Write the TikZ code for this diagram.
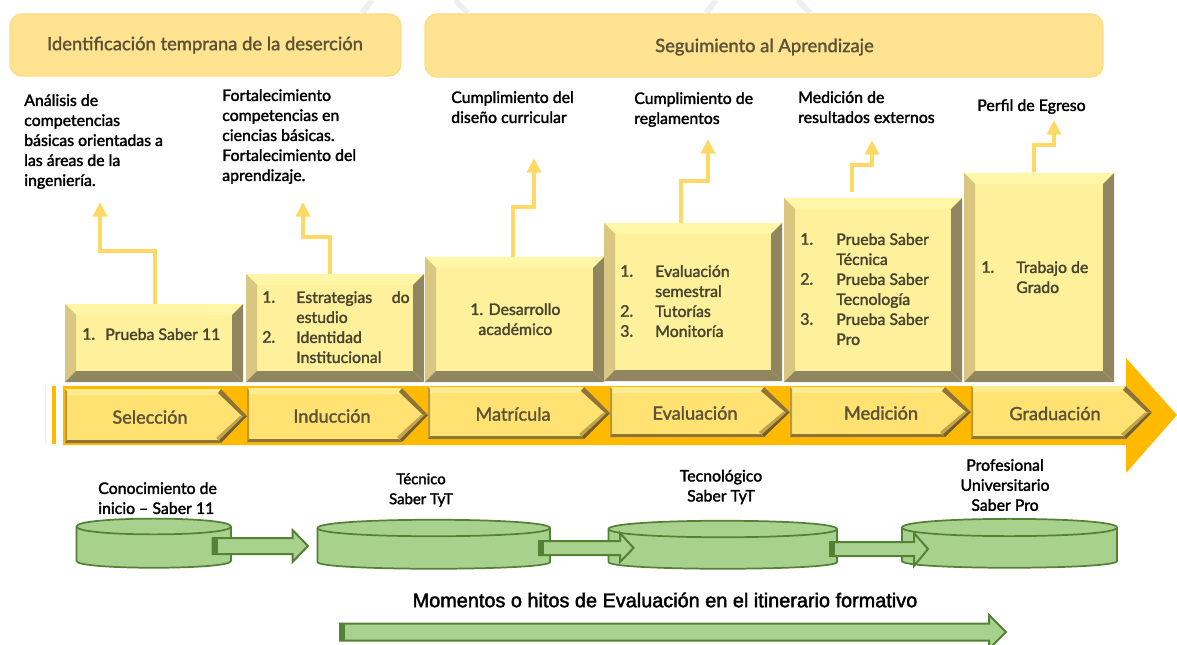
\documentclass[tikz,border=0pt]{standalone}
\usepackage{fontspec}
\setmainfont{Lato}
\newfontfamily\ftaface{Lato}
\newfontfamily\ftbface{Liberation Sans}
\newcommand{\fta}{\ftaface\special{pdf:code 2 Tr 0.22 w}}
\newcommand{\ftb}{\ftbface\special{pdf:code 2 Tr 0.3 w}}
\usetikzlibrary{arrows.meta,calc}
\definecolor{headfill}{HTML}{FFE390}
\definecolor{headedge}{HTML}{FBDD85}
\definecolor{stepcol}{HTML}{FFD966}
\definecolor{face}{HTML}{FFF09C}
\definecolor{facetop}{HTML}{FFF6A8}
\definecolor{faceleft}{HTML}{D9C680}
\definecolor{faceshade}{HTML}{8F8660}
\definecolor{band}{HTML}{FFBA00}
\definecolor{btnface}{HTML}{FFE272}
\definecolor{btntop}{HTML}{FFEC90}
\definecolor{btnleft}{HTML}{B89A3E}
\definecolor{btnshade}{HTML}{8F7437}
\definecolor{btnlow}{HTML}{C2A24A}
\definecolor{gfill}{HTML}{A9D18E}
\definecolor{gline}{HTML}{548235}
\definecolor{boxtext}{HTML}{47442E}
\definecolor{headtext}{HTML}{5C5236}
\definecolor{wmgray}{HTML}{EFEFEF}
\tikzset{
  x=0.75pt,y=-0.75pt,
  headbox/.style={fill=headfill,draw=headedge,line width=1pt,rounded corners=9pt},
  headlabel/.style={font=\fontsize{13.8}{16}\selectfont\fta,text=headtext,inner sep=0pt},
  toplabel/.style={font=\fontsize{11.9}{15}\selectfont\fta,text=black,align=left,anchor=north west,inner sep=0pt},
  btmlabel/.style={font=\fontsize{11.9}{15}\selectfont\fta,text=black,align=center,inner sep=0pt},
  smalllabel/.style={font=\fontsize{11.2}{15}\selectfont\fta,text=black,align=center,inner sep=0pt},
  listnum/.style={font=\fontsize{11.9}{15}\selectfont\fta,text=boxtext,align=left,anchor=north west,inner sep=0pt},
  listtext/.style={font=\fontsize{11.9}{15}\selectfont\fta,text=boxtext,align=left,anchor=north west,inner sep=0pt},
  btnlabel/.style={font=\fontsize{13.6}{16}\selectfont\fta,text=headtext,inner sep=0pt},
  stepline/.style={draw=stepcol,line width=3.6pt,-{Triangle[length=11pt,width=10.5pt]}},
  blockarrow/.style={fill=gfill,draw=gline,line width=1.5pt,line join=miter},
  cylbody/.style={fill=gfill,draw=gline,line width=1.3pt},
}
\newcommand{\bevelbox}[5]{% name x0 y0 x1 y1
  \fill[face] (#2,#3) rectangle (#4,#5);
  \fill[facetop] (#2,#3) -- (#4,#3) -- (#4-11,#3+11) -- (#2+11,#3+11) -- cycle;
  \fill[faceleft] (#2,#3) -- (#2+11,#3+11) -- (#2+11,#5-11) -- (#2,#5) -- cycle;
  \fill[faceshade] (#4,#3) -- (#4,#5) -- (#4-11,#5-11) -- (#4-11,#3+11) -- cycle;
  \fill[faceshade] (#2,#5) -- (#4,#5) -- (#4-11,#5-11) -- (#2+11,#5-11) -- cycle;
  \coordinate (#1) at (#2,#3);
}
\newcommand{\btn}[7]{% name x0 x1 ytop ybot label labelx
  \fill[btnface] (#2,#4) -- (#3-26,#4) -- (#3,{(#4+#5)/2}) -- (#3-26,#5) -- (#2,#5) -- cycle;
  \fill[btntop] (#2,#4) -- (#3-26,#4) -- (#3-31,#4+6) -- (#2+2,#4+6) -- cycle;
  \fill[btnleft] (#2,#4) -- (#2+2,#4+2) -- (#2+2,#5-3) -- (#2,#5) -- cycle;
  \fill[btnshade] (#2,#5) -- (#3-26,#5) -- (#3-29,#5-3) -- (#2+2,#5-3) -- cycle;
  \fill[btnshade] (#3-26,#4) -- (#3,{(#4+#5)/2}) -- (#3-5,{(#4+#5)/2}) -- (#3-29,#4+4) -- cycle;
  \fill[btnlow] (#3-26,#5) -- (#3,{(#4+#5)/2}) -- (#3-7,{(#4+#5)/2}) -- (#3-31,#5-5) -- cycle;
  \fill[btnshade!80!black] (#3-26,#5) -- (#3,{(#4+#5)/2}) -- (#3-3,{(#4+#5)/2}) -- (#3-28,#5-2.5) -- cycle;
  \node[btnlabel] (#1) at (#7,{(#4+#5)/2+1}) {#6};
}
\newcommand{\cylinder}[5]{% x0 x1 ytop yrim ybot
  \draw[cylbody] (#1,{(#3+#4)/2}) .. controls (#1,#3-3) and (#2,#3-3) .. (#2,{(#3+#4)/2})
     -- (#2,#5-7) .. controls (#2,#5+2) and (#1,#5+2) .. (#1,#5-7) -- cycle;
  \draw[cylbody,fill=none] (#1,{(#3+#4)/2}) .. controls (#1,#4+3) and (#2,#4+3) .. (#2,{(#3+#4)/2});
}
\newcommand{\blockarr}[8]{% name x0 xbase xtip ymid halfshaft headtop headbot
  \draw[blockarrow] (#2,#5-#6) -- (#3,#5-#6) -- (#3,#7) -- (#4,#5) -- (#3,#8) -- (#3,#5+#6) -- (#2,#5+#6) -- cycle;
  \fill[gline] (#2,#5-#6) rectangle (#2+5,#5+#6);
  \coordinate (#1) at (#4,#5);
}
\begin{document}
\begin{tikzpicture}
\useasboundingbox (0,0) rectangle (1177,645);
\fill[white] (0,0) rectangle (1177,645);
% faint watermark at the top edge
\draw[wmgray,line width=4pt] (362,13) -- (372,0) (468,13) -- (455,0) (706,13) -- (716,0) (810,13) -- (798,0);

% headers
\draw[headbox] (10,14) rectangle (401,76);
\node[headlabel] (h1) at (205,45) {Identificación temprana de la deserción};
\draw[headbox] (425,14) rectangle (1103,77);
\node[headlabel] (h2) at (764.5,47) {Seguimiento al Aprendizaje};

% band
\fill[band] (63,386) -- (1126,386) -- (1126,358) -- (1177,415) -- (1126,473) -- (1126,445) -- (63,445) -- cycle;
\fill[band] (52,386) rectangle (56,444);
\fill[band!25] (45,386) rectangle (46,444);

% bevel boxes
\bevelbox{b1}{65}{304}{243}{382}
\bevelbox{b2}{246}{274}{424}{382}
\bevelbox{b3}{425}{257}{604}{382}
\bevelbox{b4}{604}{223}{782}{381}
\bevelbox{b5}{784}{198}{962}{382}
\bevelbox{b6}{964}{173}{1114}{382}

% step connectors
\coordinate (s1) at (155,304); \coordinate (t1) at (100,202);
\coordinate (s2) at (330,274); \coordinate (t2) at (303,202);
\coordinate (s3) at (513,257); \coordinate (t3) at (534,158);
\coordinate (s4) at (681,223); \coordinate (t4) at (708,139);
\coordinate (s5) at (852,192); \coordinate (t5) at (872,140);
\coordinate (s6) at (1034,172); \coordinate (t6) at (1054,120);
\draw[stepline] (s1) |- (100,251) -- (t1);
\draw[stepline] (s2) |- (303,237) -- (t2);
\draw[stepline] (s3) |- (534,207) -- (t3);
\draw[stepline] (s4) |- (708,181) -- (t4);
\draw[stepline] (s5) |- (872,165) -- (t5);
\draw[stepline] (s6) |- (1054,145) -- (t6);

% top labels
\node[toplabel] (l1) at (24,94) {Análisis de\\competencias\\básicas orientadas a\\las áreas de la\\ingeniería.};
\node[toplabel] (l2) at (222,89) {Fortalecimiento\\competencias en\\ciencias básicas.\\Fortalecimiento del\\aprendizaje.};
\node[toplabel] (l3) at (451,91) {Cumplimiento del\\diseño curricular};
\node[toplabel] (l4) at (634,92) {Cumplimiento de\\reglamentos};
\node[toplabel] (l5) at (798,91) {Medición de\\resultados externos};
\node[toplabel] (l6) at (977,99) {Perfil de Egreso};

% lists
\node[listnum] (n1) at (82,328) {1.};
\node[listtext] (x1) at (105,328) {Prueba Saber 11};
\node[listnum] (n2) at (262,291) {1.\\~\\2.};
\node[listtext] (x2) at (296,291) {\makebox[85pt][s]{Estrategias\hfill do}\\estudio\\Identidad\\Institucional};
\node[listtext,align=center] (x3) at (470,303) {1. Desarrollo\\académico};
\node[listnum] (n4) at (620,265) {1.\\~\\2.\\3.};
\node[listtext] (x4) at (655,265) {Evaluación\\semestral\\Tutorías\\Monitoría};
\node[listnum] (n5) at (800,233) {1.\\~\\2.\\~\\3.};
\node[listtext] (x5) at (836,233) {Prueba Saber\\Técnica\\Prueba Saber\\Tecnología\\Prueba Saber\\Pro};
\node[listnum] (n6) at (981,261) {1.};
\node[listtext] (x6) at (1016,261) {Trabajo de\\Grado};

% chevrons
\btn{c1}{65}{247}{389}{443}{Selección}{150}
\btn{c2}{247}{428}{388}{442}{Inducción}{332}
\btn{c3}{428}{610}{387}{439}{Matrícula}{513}
\btn{c4}{610}{790}{387}{437}{Evaluación}{695}
\btn{c5}{790}{971}{387}{437}{Medición}{881}
\btn{c6}{971}{1152}{386}{439}{Graduación}{1055}

% bottom labels
\node[btmlabel,align=left,anchor=north west] (d1) at (98,482) {Conocimiento de\\inicio – Saber 11};
\node[smalllabel] (d2) at (421,490) {Técnico\\Saber TyT};
\node[btmlabel] (d3) at (721,487) {Tecnológico\\Saber TyT};
\node[btmlabel] (d4) at (1005,485) {Profesional\\Universitario\\Saber Pro};

% cylinders
\cylinder{76.5}{231}{519}{534}{568}
\cylinder{317.5}{550}{520}{536}{569}
\cylinder{608.5}{837}{521}{537}{569}
\cylinder{902}{1117}{519}{536}{568}

% block arrows
\blockarr{e1}{212.5}{292.5}{308}{546}{8}{530}{562}
\blockarr{e2}{539}{620}{633.5}{548}{7}{533}{562}
\blockarr{e3}{830}{914}{928}{549}{7}{533}{566}
\blockarr{e4}{340}{989}{1006}{632}{8.5}{615}{649}

\node[font=\fontsize{14.9}{16}\selectfont\ftb,inner sep=0pt] (m) at (665,600) {Momentos o hitos de Evaluación en el itinerario formativo};
\end{tikzpicture}
\end{document}
